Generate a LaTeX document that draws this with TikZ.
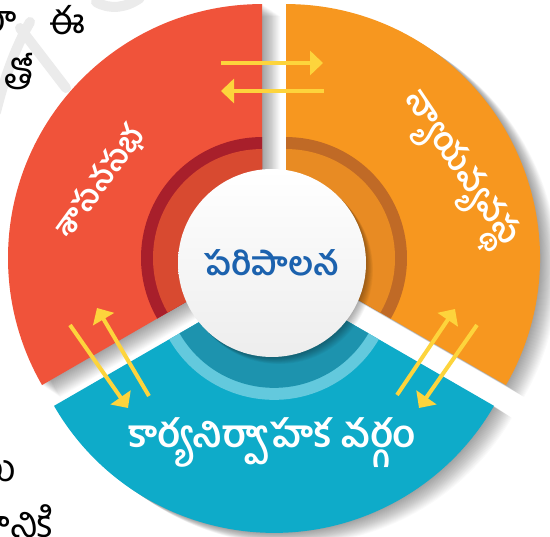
\documentclass[tikz,border=0pt]{standalone}
\usepackage{fontspec}
\newfontfamily\te[Script=Telugu]{Hind Guntur}
\usetikzlibrary{arrows.meta}
\definecolor{segred}{HTML}{F0533A}
\definecolor{segorange}{HTML}{F7971F}
\definecolor{segblue}{HTML}{0EABC9}
\definecolor{bandred}{HTML}{A81F2B}
\definecolor{innerred}{HTML}{D84A30}
\definecolor{bandorange}{HTML}{C06A26}
\definecolor{innerorange}{HTML}{E88B23}
\definecolor{bandblue}{HTML}{63C9DD}
\definecolor{innerblue}{HTML}{1D93AE}
\definecolor{arrowyellow}{HTML}{FDD43C}
\definecolor{titleblue}{HTML}{1C62AE}
\begin{document}
\begin{tikzpicture}[x=1pt,y=1pt,
  seglabel/.style={text=white, font=\te\bfseries\fontsize{31}{33}\selectfont, inner sep=0pt},
  booktext/.style={text=black, font=\te\fontsize{38}{40}\selectfont, inner sep=0pt},
  flow/.style={draw=arrowyellow, line width=4pt, -{Triangle[length=13pt,width=24pt]}},
  wm/.style={draw=gray!16, line width=10pt, line cap=round},
  shadowfill/.style={fill=black, opacity=0.02},
]
\useasboundingbox (0,0) rectangle (550,-537);
\clip (0,0) rectangle (550,-537);
\fill[white] (0,0) rectangle (550,-537);

% faint watermark strokes
\draw[wm] (-4,-112) .. controls (4,-80) and (14,-50) .. (30,-22);
\draw[wm] (20,-28) -- (66,-88);
\draw[wm] (96,-2) .. controls (110,-10) and (126,-8) .. (140,2);

% centres
\coordinate (C) at (274,-265);
\coordinate (rc) at (262,-258.07);
\coordinate (oc) at (286,-258.07);
\coordinate (bc) at (274,-278.86);
\coordinate (hc) at (272,-263);

% soft shadows
\foreach \k in {1,...,20}{
  \fill[shadowfill] ([shift={(\k*0.9,-\k*0.6)}]rc) -- ++(90:254) arc[start angle=90,end angle=210,radius=254] -- cycle;
  \fill[shadowfill] ([shift={(\k*0.9,-\k*0.6)}]oc) -- ++(-30:254) arc[start angle=-30,end angle=90,radius=254] -- cycle;
  \fill[shadowfill] ([shift={(\k*0.9,-\k*0.6)}]bc) -- ++(210:254) arc[start angle=210,end angle=330,radius=254] -- cycle;
}

% segments
\fill[segred] (rc) -- ++(90:254) arc[start angle=90,end angle=210,radius=254] -- cycle;
\fill[bandred] (rc) -- ++(90:121) arc[start angle=90,end angle=210,radius=121] -- cycle;
\fill[innerred] (rc) -- ++(90:109) arc[start angle=90,end angle=210,radius=109] -- cycle;

\fill[segorange] (oc) -- ++(-30:254) arc[start angle=-30,end angle=90,radius=254] -- cycle;
\fill[bandorange] (oc) -- ++(-30:121) arc[start angle=-30,end angle=90,radius=121] -- cycle;
\fill[innerorange] (oc) -- ++(-30:109) arc[start angle=-30,end angle=90,radius=109] -- cycle;

\fill[segblue] (bc) -- ++(210:254) arc[start angle=210,end angle=330,radius=254] -- cycle;
\fill[bandblue] (bc) -- ++(210:121) arc[start angle=210,end angle=330,radius=121] -- cycle;
\fill[innerblue] (bc) -- ++(210:109) arc[start angle=210,end angle=330,radius=109] -- cycle;

% hub shadow and hub
\foreach \k in {1,...,10}{
  \fill[shadowfill, opacity=0.035] ([shift={(\k*0.7,-\k*0.7)}]hc) circle (94);
}
\node[circle, minimum size=188pt, inner sep=0pt, top color=white, bottom color=gray!14,
      text=titleblue, font=\te\bfseries\fontsize{33}{35}\selectfont] (hub) at (hc) {పరిపాలన};

% segment labels
\node[seglabel, rotate=54] (leg) at (100,-182) {శాసనసభ};
\node[seglabel, rotate=-56, font=\te\bfseries\fontsize{33}{35}\selectfont] (jud) at (456,-172) {న్యాయవ్యవస్థ};
\node[seglabel, font=\te\bfseries\fontsize{38}{40}\selectfont] (exe) at (272,-443) {కార్యనిర్వాహక వర్గం};

% arrow end points
\coordinate (a1s) at (221,-63);  \coordinate (a1e) at (323,-63);
\coordinate (a2s) at (324,-91);  \coordinate (a2e) at (221,-91);
\coordinate (b1s) at (149,-396); \coordinate (b1e) at (97,-308);
\coordinate (b2s) at (70,-325);  \coordinate (b2e) at (128,-408);
\coordinate (c1s) at (397,-395); \coordinate (c1e) at (455,-309);
\coordinate (c2s) at (477,-325); \coordinate (c2e) at (419,-408);
\draw[flow] (a1s) -- (a1e);
\draw[flow] (a2s) -- (a2e);
\draw[flow] (b1s) -- (b1e);
\draw[flow] (b2s) -- (b2e);
\draw[flow] (c1s) -- (c1e);
\draw[flow] (c2s) -- (c2e);

% cut-off book text
\node[booktext, anchor=east] (t1) at (17,-22) {రా};
\node[booktext] (t2) at (67,-20) {ఈ};
\node[booktext] (t3) at (19,-72) {తో};
\node[booktext, anchor=east] (t4) at (16,-471) {లు};
\node[booktext, anchor=east] (t5) at (54,-521) {కానికి};
\end{tikzpicture}
\end{document}
